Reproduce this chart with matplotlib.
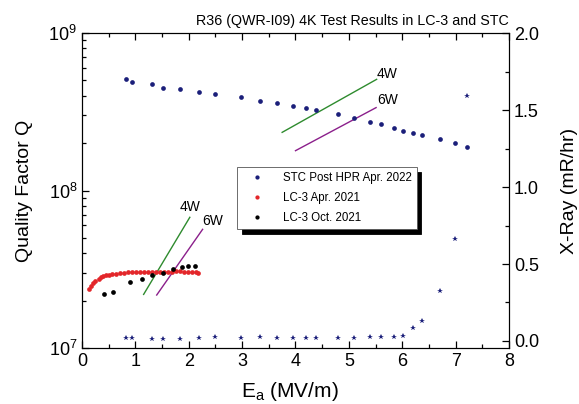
import matplotlib
matplotlib.use("Agg")
import matplotlib.pyplot as plt
from matplotlib.ticker import LogLocator, MultipleLocator, NullFormatter, FormatStrFormatter

plt.rcParams['font.family'] = ['Liberation Sans', 'DejaVu Sans']
plt.rcParams['mathtext.fontset'] = 'custom'
plt.rcParams['mathtext.rm'] = 'Liberation Sans'
plt.rcParams['mathtext.it'] = 'Liberation Sans:italic'

# STC post HPR Apr. 2022 (Q on left axis, X-ray on right axis)
E_stc = [0.82, 0.94, 1.31, 1.52, 1.84, 2.19, 2.49, 2.98, 3.33, 3.66, 3.96, 4.20,
         4.38, 4.80, 5.09, 5.40, 5.60, 5.84, 6.02, 6.20, 6.37, 6.70, 6.98, 7.22]
Q_stc = [5.10e8, 4.91e8, 4.72e8, 4.50e8, 4.43e8, 4.22e8, 4.12e8, 3.93e8, 3.72e8,
         3.60e8, 3.45e8, 3.34e8, 3.23e8, 3.06e8, 2.88e8, 2.72e8, 2.63e8, 2.49e8,
         2.38e8, 2.33e8, 2.25e8, 2.11e8, 2.01e8, 1.88e8]
X_stc = [0.018, 0.020, 0.015, 0.013, 0.016, 0.020, 0.028, 0.020, 0.024, 0.020,
         0.020, 0.020, 0.018, 0.020, 0.020, 0.026, 0.025, 0.025, 0.030, 0.086,
         0.128, 0.325, 0.662, 1.59]

# LC-3 Apr. 2021
E_apr = [0.14, 0.17, 0.21, 0.25, 0.31, 0.35, 0.40, 0.45, 0.51, 0.57, 0.64, 0.71,
         0.79, 0.87, 0.94, 1.02, 1.09, 1.17, 1.24, 1.32, 1.39, 1.47, 1.54, 1.62,
         1.69, 1.77, 1.84, 1.92, 1.99, 2.07, 2.14, 2.18]
Q_apr = [2.36e7, 2.48e7, 2.58e7, 2.66e7, 2.75e7, 2.81e7, 2.87e7, 2.90e7, 2.92e7,
         2.94e7, 2.96e7, 2.98e7, 3.00e7, 3.02e7, 3.03e7, 3.04e7, 3.04e7, 3.05e7,
         3.05e7, 3.05e7, 3.06e7, 3.06e7, 3.06e7, 3.06e7, 3.06e7, 3.07e7, 3.07e7,
         3.06e7, 3.05e7, 3.04e7, 3.02e7, 2.98e7]

# LC-3 Oct. 2021
E_oct = [0.42, 0.59, 0.90, 1.12, 1.32, 1.51, 1.71, 1.87, 1.99, 2.12]
Q_oct = [2.21e7, 2.28e7, 2.62e7, 2.73e7, 2.90e7, 3.01e7, 3.18e7, 3.28e7, 3.30e7, 3.33e7]

# Constant-power lines
E_4w_low = [1.155, 2.02]
Q_4w_low = [2.19e7, 6.76e7]
E_6w_low = [1.40, 2.26]
Q_6w_low = [2.17e7, 5.67e7]
E_4w_high = [3.75, 5.52]
Q_4w_high = [2.34e8, 5.08e8]
E_6w_high = [4.00, 5.51]
Q_6w_high = [1.79e8, 3.36e8]

labels = ['STC Post HPR Apr. 2022', 'LC-3 Apr. 2021', 'LC-3 Oct. 2021']

blue = '#1b1f7a'
red = '#e3262a'
green = '#2e8b2e'
purple = '#8b1f8b'

fig = plt.figure(figsize=(5.79, 4.04), dpi=100)
ax = fig.add_axes([0.1416, 0.1386, 0.7375, 0.7797])
ax2 = ax.twinx()

ax.plot(E_4w_low, Q_4w_low, color=green, lw=1.0)
ax.plot(E_6w_low, Q_6w_low, color=purple, lw=1.0)
ax.plot(E_4w_high, Q_4w_high, color=green, lw=1.0)
ax.plot(E_6w_high, Q_6w_high, color=purple, lw=1.0)

h1, = ax.plot(E_stc, Q_stc, 'o', color=blue, ms=3.4, mew=0, label=labels[0])
h2, = ax.plot(E_apr, Q_apr, 'o', color=red, ms=3.4, mew=0, label=labels[1])
h3, = ax.plot(E_oct, Q_oct, 'o', color='black', ms=3.4, mew=0, label=labels[2])

ax2.plot(E_stc, X_stc, '*', color=blue, ms=4.4, mew=0)

ax.text(2.02, 7.9e7, '4W', fontsize=10, ha='center', va='center')
ax.text(2.45, 6.4e7, '6W', fontsize=10, ha='center', va='center')
ax.text(5.71, 5.5e8, '4W', fontsize=10, ha='center', va='center')
ax.text(5.73, 3.75e8, '6W', fontsize=10, ha='center', va='center')

ax.set_yscale('log')
ax.set_xlim(0, 8)
ax.set_ylim(1e7, 1e9)
ax2.set_ylim(-0.0455, 2.0)

ax.xaxis.set_major_locator(MultipleLocator(1))
ax.xaxis.set_minor_locator(MultipleLocator(0.5))
ax.yaxis.set_major_locator(LogLocator(base=10, numticks=10))
ax.yaxis.set_minor_locator(LogLocator(base=10, subs=range(2, 10), numticks=10))
ax.yaxis.set_minor_formatter(NullFormatter())
ax2.yaxis.set_major_locator(MultipleLocator(0.5))
ax2.yaxis.set_minor_locator(MultipleLocator(0.25))
ax2.yaxis.set_major_formatter(FormatStrFormatter('%.1f'))

ax.tick_params(which='both', direction='in', top=True, right=False, labelsize=13)
ax.tick_params(which='major', length=5, width=0.9)
ax.tick_params(which='minor', length=3, width=0.9)
ax2.tick_params(which='both', direction='in', labelsize=13)
ax2.tick_params(which='major', length=5, width=0.9)
ax2.tick_params(which='minor', length=3, width=0.9)

ax.set_xlabel(r'E$_\mathrm{a}$ (MV/m)', fontsize=15, labelpad=6)
ax.xaxis.set_label_coords(0.487, -0.102)
ax.set_ylabel('Quality Factor Q', fontsize=14, labelpad=11)
ax2.set_ylabel('X-Ray (mR/hr)', fontsize=14, labelpad=16)
ax.set_title('R36 (QWR-I09) 4K Test Results in LC-3 and STC', fontsize=10.3,
             loc='right', pad=6)

leg = ax.legend(handles=[h1, h2, h3], labels=labels, loc='upper left',
                bbox_to_anchor=(0.363, 0.575), borderaxespad=0, fontsize=8.3,
                frameon=True, fancybox=False, edgecolor='#555555', framealpha=1,
                handlelength=2.6, handletextpad=0.9, labelspacing=0.7,
                borderpad=0.45, markerscale=0.9,
                shadow={'ox': 3.5, 'oy': -3.5, 'color': 'black', 'alpha': 1})
leg.get_frame().set_linewidth(0.6)

fig.savefig('out.png', dpi=100)
